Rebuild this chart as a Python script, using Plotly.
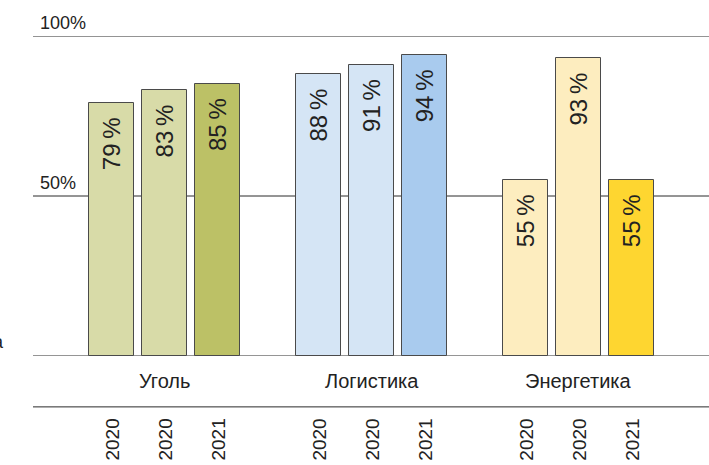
import plotly.graph_objects as go

groups = ["Уголь", "Логистика", "Энергетика"]
years = [["2020", "2020", "2021"], ["2020", "2020", "2021"], ["2020", "2020", "2021"]]
values = [[79, 83, 85], [88, 91, 94], [55, 93, 55]]
colors = [["#d8dba8", "#d8dba8", "#bcc166"],
          ["#d5e5f5", "#d5e5f5", "#a9cbee"],
          ["#fdedbf", "#fdedbf", "#fed630"]]
y_ticks = [50, 100]
y_tick_labels = ["50%", "100%"]

GSTEP = 3.906  # group spacing in bar-slot units
FONT = "Liberation Sans, Arial, sans-serif"
INK = "#222222"

xs, ys, cs, ts, yrs = [], [], [], [], []
for g, grp in enumerate(groups):
    for j, v in enumerate(values[g]):
        xs.append(g * GSTEP + j)
        ys.append(v)
        cs.append(colors[g][j])
        ts.append(f"{v}\u2009%")
        yrs.append(years[g][j])

fig = go.Figure()
fig.add_trace(go.Bar(
    x=xs, y=ys, width=0.85,
    marker=dict(color=cs, line=dict(color="#4a4a4a", width=1)),
    hoverinfo="skip", showlegend=False,
))

shapes = []
for yv in [0] + y_ticks:
    shapes.append(dict(type="line", xref="paper", yref="y", x0=0, x1=1, y0=yv, y1=yv,
                       line=dict(color="#2a2a2a", width=1), layer="below"))
shapes.append(dict(type="line", xref="paper", yref="paper", x0=0, x1=1, y0=-0.159, y1=-0.159,
                   line=dict(color="#2a2a2a", width=1)))

annotations = []
for x, v, t in zip(xs, ys, ts):
    annotations.append(dict(x=x, xref="x", y=v, yref="y", text=t, textangle=-90,
                            showarrow=False, xanchor="center", yanchor="top", yshift=-12,
                            font=dict(family=FONT, size=24, color=INK)))
for yv, lab in zip(y_ticks, y_tick_labels):
    annotations.append(dict(x=0.008, xref="paper", y=yv / 100 + 0.004, yref="paper", text=lab,
                            showarrow=False, xanchor="left", yanchor="bottom",
                            font=dict(family=FONT, size=18, color=INK)))
for g, grp in enumerate(groups):
    annotations.append(dict(x=g * GSTEP + 1, xref="x", y=-0.078, yref="paper", text=grp,
                            showarrow=False, xanchor="center", yanchor="middle",
                            font=dict(family=FONT, size=20, color=INK)))
for x, yr in zip(xs, yrs):
    annotations.append(dict(x=x, xref="x", y=-0.2625, yref="paper", text=yr, textangle=-90,
                            showarrow=False, xanchor="center", yanchor="middle",
                            font=dict(family=FONT, size=19, color=INK)))
annotations.append(dict(x=-0.040, xref="paper", y=0.005, yref="paper", text="а",
                        showarrow=False, xanchor="right", yanchor="bottom",
                        font=dict(family=FONT, size=18, color=INK)))

fig.update_layout(
    width=709, height=465,
    margin=dict(l=33, r=0, t=36, b=109),
    paper_bgcolor="white", plot_bgcolor="white",
    xaxis=dict(range=[-1.481, 11.27], visible=False, fixedrange=True),
    yaxis=dict(range=[0, 100], visible=False, fixedrange=True),
    shapes=shapes, annotations=annotations, bargap=0,
)
fig.write_html("out.html", config={"displayModeBar": False},
               post_script="document.body.style.margin='0';document.body.style.overflow='hidden';")
